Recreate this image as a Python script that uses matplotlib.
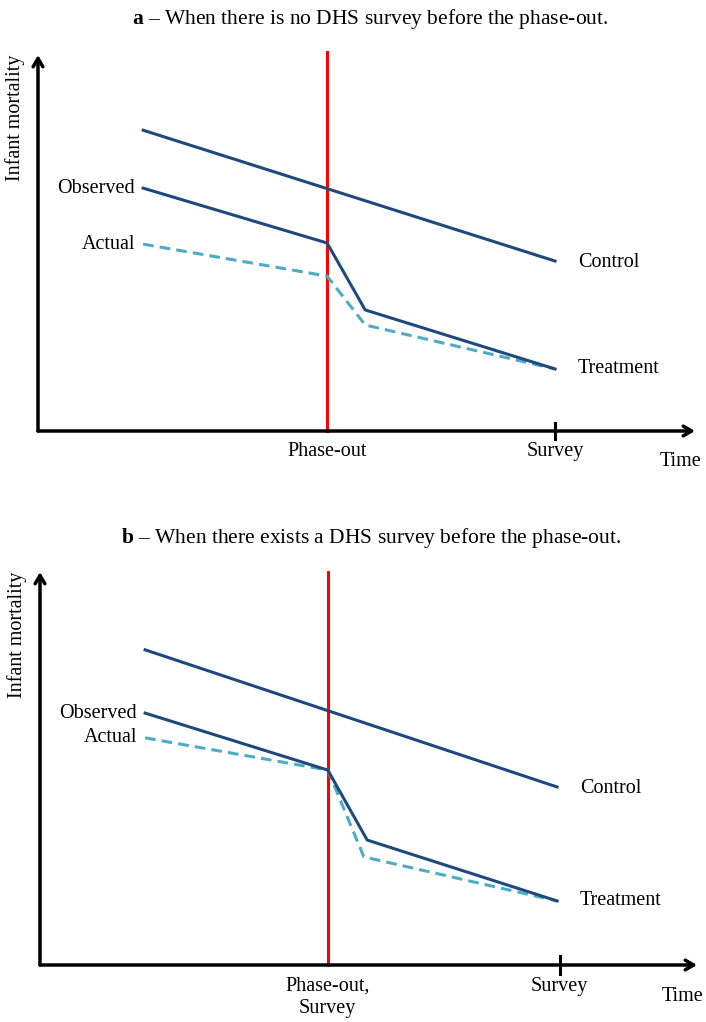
import matplotlib.pyplot as plt

plt.rcParams['font.family'] = ['Liberation Serif', 'DejaVu Serif']
plt.rcParams['mathtext.fontset'] = 'custom'
plt.rcParams['mathtext.bf'] = 'Liberation Serif:bold'
plt.rcParams['mathtext.rm'] = 'Liberation Serif'

# time positions (axis units 0..10)
t_a = [1.60, 4.40, 4.98, 7.87]
t_b = [1.60, 4.38, 4.98, 7.87]
t_b_actual = [1.60, 4.38, 4.93, 7.87]
phase_out_a = 4.40
phase_out_b = 4.38
survey_a = 7.87
survey_b = 7.91

# infant mortality levels (axis units 0..10)
control_a = [8.00, 4.52]
observed_a = [6.46, 5.00, 3.22, 1.65]
actual_a = [4.97, 4.12, 2.82, 1.65]

control_b = [8.02, 4.53]
observed_b = [6.41, 4.96, 3.18, 1.63]
actual_b = [5.78, 4.96, 2.75, 1.63]

titles = [r'$\mathbf{a}$ – When there is no DHS survey before the phase-out.',
          r'$\mathbf{b}$ – When there exists a DHS survey before the phase-out.']
phase_labels = ['Phase-out', 'Phase-out,\nSurvey']

navy = '#1f497d'
light = '#4bacc6'
red = '#ff0000'
W, H = 706, 1022

fig = plt.figure(figsize=(W / 100, H / 100), dpi=100)


def panel(x0, y0, x1, y1, t, ta, control, observed, actual, phase, survey,
          title, title_y, phase_lab, ytop):
    # axes placed so that (0,0) is the origin and (10,10) the arrow tips
    ax = fig.add_axes([x0 / W, 1 - y0 / H, (x1 - x0) / W, (y0 - y1) / H])
    ax.set_xlim(0, 10)
    ax.set_ylim(0, 10)
    ax.axis('off')
    arrow = dict(arrowstyle='->,head_length=0.6,head_width=0.35', lw=2.5,
                 color='black', shrinkA=0, shrinkB=0)
    ax.annotate('', xy=(10, 0), xytext=(0, 0), arrowprops=arrow,
                annotation_clip=False)
    ax.annotate('', xy=(0, 10), xytext=(0, 0), arrowprops=arrow,
                annotation_clip=False)
    ax.plot([phase, phase], [0, ytop], color=red, lw=2.2, clip_on=False)
    ax.plot([survey, survey], [-0.22, 0.22], color='black', lw=2.2,
            clip_on=False)
    ax.plot([t[0], t[3]], control, color=navy, lw=2.2, clip_on=False)
    ax.plot(ta, actual, color=light, lw=2.2, ls=(0, (3.5, 2)), clip_on=False)
    ax.plot(t, observed, color=navy, lw=2.2, clip_on=False)

    fs = 14.5
    ax.text(t[0] - 0.12, observed[0], 'Observed', ha='right', va='center',
            fontsize=fs)
    ax.text(t[0] - 0.12, actual[0], 'Actual', ha='right', va='center',
            fontsize=fs)
    ax.text(t[3] + 0.35, control[1] - 0.05, 'Control', ha='left',
            va='center', fontsize=fs)
    ax.text(t[3] + 0.35, observed[3], 'Treatment', ha='left', va='center',
            fontsize=fs)
    ax.text(phase, -0.3, phase_lab, ha='center', va='top', fontsize=fs,
            linespacing=1.2)
    ax.text(survey, -0.3, 'Survey', ha='center', va='top', fontsize=fs)
    ax.text(10.1, -0.55, 'Time', ha='right', va='top', fontsize=fs)
    ax.text(-0.2, 10, 'Infant mortality', ha='right', va='top',
            rotation=90, fontsize=fs)
    fig.text(0.525, 1 - title_y / H, title, ha='center', va='center',
             fontsize=15.5)


panel(38, 431, 695, 55, t_a, t_a, control_a, observed_a, actual_a,
      phase_out_a, survey_a, titles[0], 19, phase_labels[0], 10.08)
panel(40, 965, 697, 572, t_b, t_b_actual, control_b, observed_b, actual_b,
      phase_out_b, survey_b, titles[1], 538, phase_labels[1], 10.0)

fig.savefig('out.png', dpi=100)
